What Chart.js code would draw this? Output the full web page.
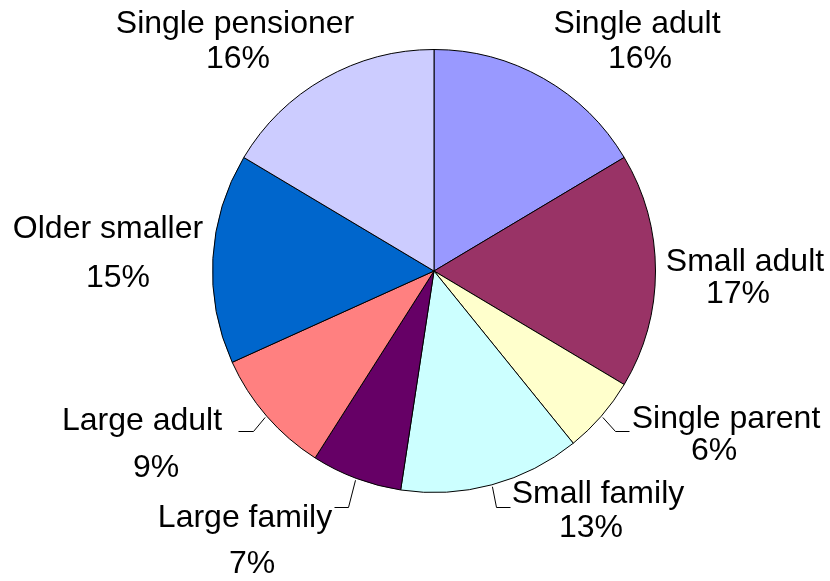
<!DOCTYPE html>
<html>
<head>
<meta charset="utf-8">
<script src="https://cdn.jsdelivr.net/npm/chart.js@4.4.0/dist/chart.umd.min.js"></script>
<style>
    html, body { margin: 0; padding: 0; background: #ffffff; }
    #wrap { width: 830px; height: 581px; }
</style>
</head>
<body>
<div id="wrap"><canvas id="householdChart"></canvas></div>
<script>
// Household types, clockwise from 12 o'clock
const categories = ['Single adult', 'Small adult', 'Single parent', 'Small family',
                    'Large family', 'Large adult', 'Older smaller', 'Single pensioner'];
const shares = [16.4, 17.1, 5.6, 13.2, 6.6, 9.2, 15.3, 16.4];
const sliceColors = ['#9999FF', '#993366', '#FFFFCC', '#CCFFFF',
                     '#660066', '#FF8080', '#0066CC', '#CCCCFF'];

// Where each label sits (line 1 / line 2), plus optional leader elbow + end
const labelSpots = [
    { x1: 637, y1: 33,  x2: 640, y2: 68 },
    { x1: 745, y1: 271, x2: 738, y2: 303 },
    { x1: 726, y1: 428, x2: 714, y2: 460, leader: [[615, 431], [629, 431]] },
    { x1: 598, y1: 503, x2: 591, y2: 537, leader: [[496, 507], [510, 507]] },
    { x1: 245, y1: 527, x2: 252, y2: 573, leader: [[348, 507], [334, 507]] },
    { x1: 142, y1: 430, x2: 156, y2: 477, leader: [[253, 431], [238, 431]] },
    { x1: 108, y1: 238, x2: 118, y2: 287 },
    { x1: 235, y1: 33,  x2: 238, y2: 68 }
];

const sliceLabels = {
    id: 'sliceLabels',
    afterDatasetsDraw(chart) {
        const ctx = chart.ctx;
        const arcs = chart.getDatasetMeta(0).data;
        const values = chart.data.datasets[0].data;
        const total = values.reduce((a, b) => a + b, 0);

        ctx.save();
        ctx.fillStyle = '#000000';
        ctx.strokeStyle = '#000000';
        ctx.lineWidth = 1;
        ctx.font = '32px "Liberation Sans", Arial, sans-serif';
        ctx.textAlign = 'center';
        ctx.textBaseline = 'alphabetic';

        arcs.forEach((arc, i) => {
            const spot = labelSpots[i];
            const pct = Math.round(values[i] / total * 100) + '%';
            ctx.fillText(chart.data.labels[i], spot.x1, spot.y1);
            ctx.fillText(pct, spot.x2, spot.y2);

            if (spot.leader) {
                // leader starts just outside the slice at its mid angle
                const mid = (arc.startAngle + arc.endAngle) / 2;
                const r = arc.outerRadius + 2;
                ctx.beginPath();
                ctx.moveTo(arc.x + Math.cos(mid) * r, arc.y + Math.sin(mid) * r);
                spot.leader.forEach(p => ctx.lineTo(p[0] + 0.5, p[1] + 0.5));
                ctx.stroke();
            }
        });
        ctx.restore();
    }
};

const ctx = document.getElementById('householdChart').getContext('2d');
new Chart(ctx, {
    type: 'pie',
    data: {
        labels: categories,
        datasets: [{
            data: shares,
            backgroundColor: sliceColors,
            borderColor: '#000000',
            borderWidth: 1
        }]
    },
    options: {
        responsive: true,
        maintainAspectRatio: false,
        animation: false,
        layout: {
            padding: { left: 212, right: 174, top: 49, bottom: 88 }
        },
        plugins: {
            legend: { display: false },
            tooltip: { enabled: false }
        }
    },
    plugins: [sliceLabels]
});
</script>
</body>
</html>
